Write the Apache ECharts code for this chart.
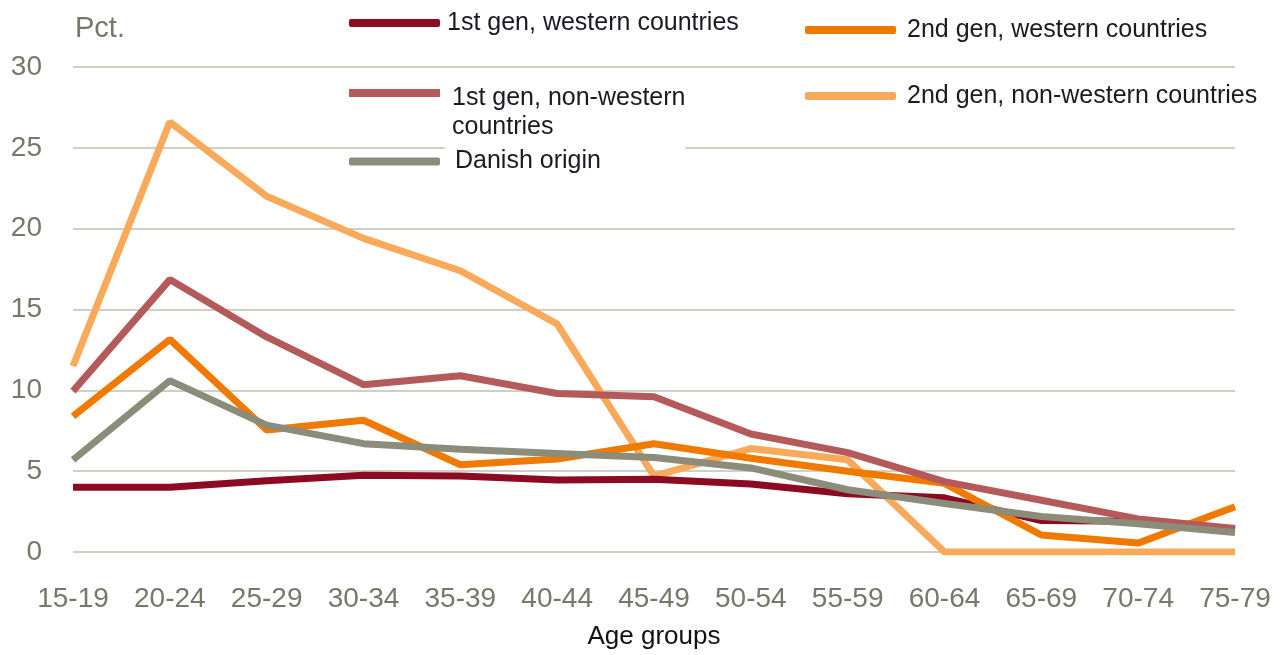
<!DOCTYPE html>
<html>
<head>
<meta charset="utf-8">
<script src="https://cdn.jsdelivr.net/npm/echarts@6/dist/echarts.min.js"></script>
<style>
html,body{margin:0;padding:0;background:#fff;}
#chart{width:1285px;height:655px;}
</style>
</head>
<body>
<div id="chart"></div>
<script>
const categories = ['15-19','20-24','25-29','30-34','35-39','40-44','45-49','50-54','55-59','60-64','65-69','70-74','75-79'];
const yTicks = { min: 0, max: 30, interval: 5 };
const firstWestern    = [4.0, 4.0, 4.4, 4.75, 4.7, 4.45, 4.5, 4.2, 3.6, 3.35, 1.95, 1.9, 1.4];
const secondWestern   = [8.4, 13.15, 7.55, 8.15, 5.4, 5.75, 6.7, 5.8, 5.0, 4.25, 1.05, 0.55, 2.8];
const firstNonWestern = [9.95, 16.85, 13.3, 10.35, 10.9, 9.8, 9.6, 7.3, 6.15, 4.35, 3.2, 2.05, 1.45];
const secondNonWestern= [11.5, 26.6, 22.0, 19.4, 17.4, 14.1, 4.7, 6.4, 5.7, 0, 0, 0, 0];
const danishOrigin    = [5.7, 10.6, 7.85, 6.7, 6.35, 6.1, 5.85, 5.2, 3.85, 3.0, 2.2, 1.75, 1.2];

const names = {
  fw: '1st gen, western countries',
  sw: '2nd gen, western countries',
  fnw: '1st gen, non-western countries',
  snw: '2nd gen, non-western countries',
  dk: 'Danish origin'
};
const colors = { fw:'#8C0B22', sw:'#F07A00', fnw:'#B55A5A', snw:'#F9A95A', dk:'#8C8C7A' };

const regular = '"Liberation Sans", Arial, sans-serif';
const tickColor = '#77776a';

function legendFor(key, left, top, padLeft, extra) {
  const base = {
    data: [names[key]],
    left: left, top: top, padding: 0,
    orient: 'horizontal',
    icon: 'roundRect',
    itemWidth: 91, itemHeight: 8,
    itemStyle: { borderWidth: 0 },
    textStyle: { fontFamily: regular, fontSize: 25, lineHeight: 29, color: '#1a1a22', padding: [0,0,0,padLeft] }
  };
  return Object.assign(base, extra || {});
}

const chart = echarts.init(document.getElementById('chart'));
chart.setOption({
  animation: false,
  backgroundColor: '#fff',
  title: {
    text: 'Pct.', left: 75, top: 14, padding: 0,
    textStyle: { fontFamily: regular, fontSize: 29, fontWeight: 'normal', color: tickColor }
  },
  grid: { left: 73, right: 50, top: 67, bottom: 102, containLabel: false },
  legend: [
    legendFor('fw', 349, 8.5, 2),
    legendFor('sw', 805, 15.5, 6),
    legendFor('fnw', 349, 73.5, 7, {
      icon: 'path://M0,0h0.01v0.01h-0.01zM0,15.5h91v8h-91zM0,77.99h0.01v0.01h-0.01z',
      itemHeight: 78,
      formatter: function () { return '1st gen, non-western\ncountries'; },
      textStyle: { fontFamily: regular, fontSize: 25, lineHeight: 29, color: '#1a1a22', backgroundColor: '#fff', padding: [0,0,20,7] }
    }),
    legendFor('snw', 805, 81.5, 6),
    legendFor('dk', 349, 147, 10)
  ],
  xAxis: {
    type: 'category',
    data: categories,
    boundaryGap: false,
    name: 'Age groups',
    nameLocation: 'middle',
    nameGap: 72,
    nameTextStyle: { fontFamily: regular, fontSize: 26, color: '#111' },
    axisLine: { show: false },
    axisTick: { show: false },
    axisLabel: { fontFamily: regular, fontSize: 28, color: tickColor, margin: 33, interval: 0 },
    splitLine: { show: false }
  },
  yAxis: {
    type: 'value',
    min: yTicks.min, max: yTicks.max, interval: yTicks.interval,
    axisLine: { show: false },
    axisTick: { show: false },
    axisLabel: { fontFamily: regular, fontSize: 28, color: tickColor, margin: 31 },
    splitLine: { lineStyle: { color: '#cfcfc4', width: 2 } }
  },
  series: [
    { key: 'snw', data: secondNonWestern },
    { key: 'fw', data: firstWestern },
    { key: 'sw', data: secondWestern },
    { key: 'fnw', data: firstNonWestern },
    { key: 'dk', data: danishOrigin }
  ].map(s => ({
    name: names[s.key],
    type: 'line',
    data: s.data,
    showSymbol: false,
    symbol: 'none',
    color: colors[s.key],
    lineStyle: { width: 7, color: colors[s.key] },
    itemStyle: { color: colors[s.key] }
  }))
});
</script>
</body>
</html>
